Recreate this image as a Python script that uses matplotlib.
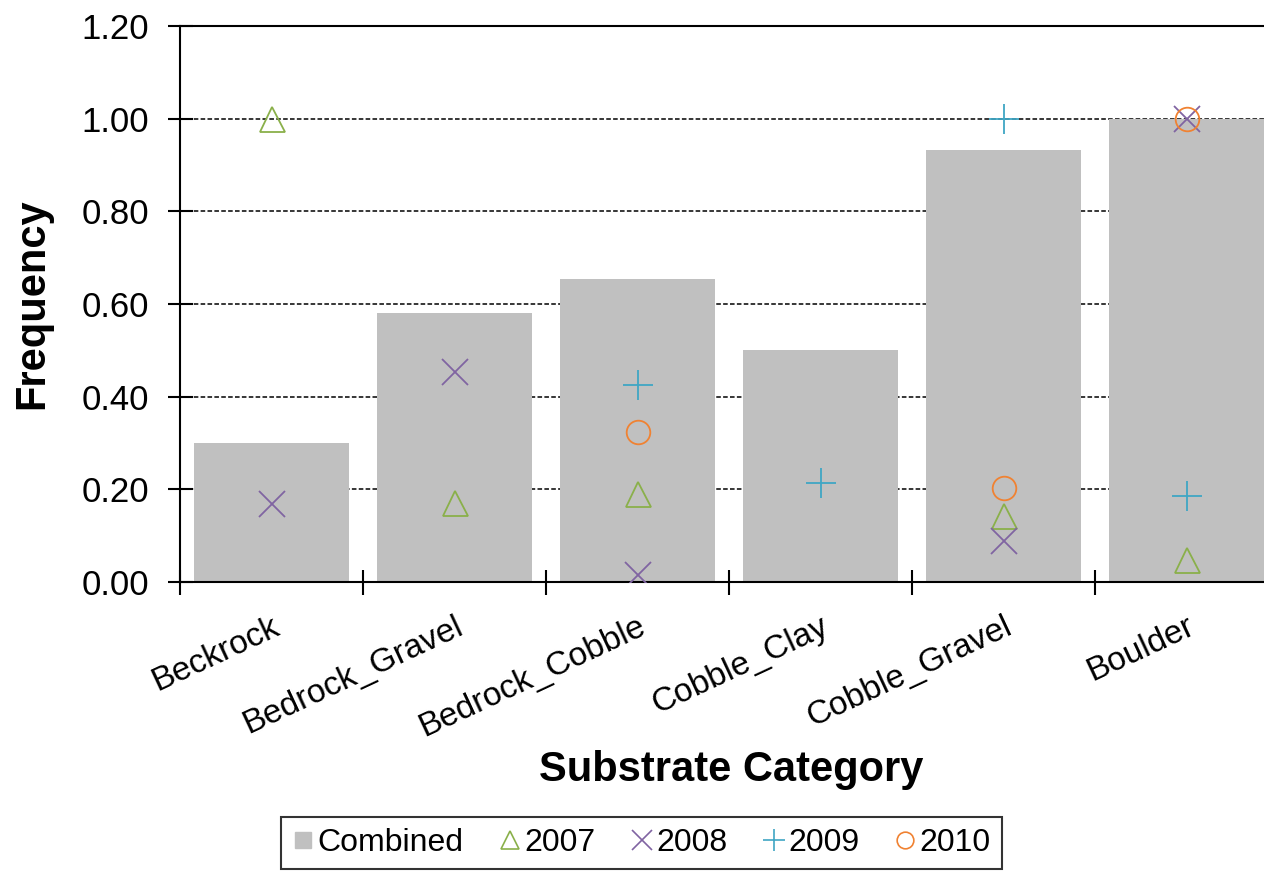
import matplotlib
matplotlib.use('Agg')
import matplotlib.pyplot as plt
from matplotlib.lines import Line2D
import numpy as np

plt.rcParams['font.family'] = ['Liberation Sans', 'DejaVu Sans']

categories = ['Beckrock', 'Bedrock_Gravel', 'Bedrock_Cobble', 'Cobble_Clay', 'Cobble_Gravel', 'Boulder']
combined = [0.30, 0.58, 0.654, 0.50, 0.933, 1.00]
y2007 = [1.00, 0.17, 0.19, np.nan, 0.143, 0.048]
y2008 = [0.168, 0.454, 0.015, np.nan, 0.089, 1.00]
y2009 = [np.nan, np.nan, 0.425, 0.214, 1.00, 0.186]
y2010 = [np.nan, np.nan, 0.324, np.nan, 0.203, 1.00]
yticks = [0.0, 0.2, 0.4, 0.6, 0.8, 1.0, 1.2]

green = '#8AB04A'
purple = '#8064A2'
teal = '#3FA6C4'
orange = '#F08232'
gray = '#C0C0C0'

fig = plt.figure(figsize=(12.64, 8.72), dpi=100)
ax = fig.add_axes([180 / 1264, 290 / 872, 1098 / 1264, 556 / 872])

x = np.arange(len(categories))
ax.bar(x, combined, width=0.85, color=gray, zorder=1)

mk = dict(linestyle='none', markerfacecolor='none', markeredgewidth=1.3, zorder=3)
ax.plot(x, y2007, marker='^', markersize=18, markeredgecolor=green, **mk)
ax.plot(x, y2008, marker='x', markersize=19, markeredgecolor=purple, **mk)
ax.plot(x, y2009, marker='+', markersize=21, markeredgecolor=teal, **mk)
ax.plot(x, y2010, marker='o', markersize=17, markeredgecolor=orange, **mk)

ax.set_xlim(-0.5, len(categories) - 0.5)
ax.set_ylim(0, 1.2)
ax.set_yticks(yticks)
ax.set_yticklabels([f'{v:.2f}' for v in yticks])
ax.set_axisbelow(True)
ax.yaxis.grid(True, color='black', linewidth=1.1, linestyle=(0, (3, 1.5)))

# category boundaries carry the ticks, centres carry the labels
ax.set_xticks(np.arange(-0.5, len(categories), 1.0))
ax.set_xticklabels([])
ax.set_xticks(x, minor=True)
ax.set_xticklabels(categories, minor=True, rotation=25, ha='right',
                   rotation_mode='anchor', fontsize=24)
ax.tick_params(axis='x', which='major', direction='inout', length=18, width=1.5)
ax.tick_params(axis='x', which='minor', length=0, pad=21)
ax.tick_params(axis='y', direction='inout', length=18, width=1.5, labelsize=25, pad=13)
for s in ax.spines.values():
    s.set_linewidth(1.5)

ax.set_ylabel('Frequency', fontsize=30, fontweight='bold')
ax.yaxis.set_label_coords(-0.116, 0.5)
ax.set_xlabel('Substrate Category', fontsize=30, fontweight='bold', va='center')
ax.xaxis.set_label_coords(0.502, -0.338)

handles = [
    Line2D([], [], linestyle='none', marker='s', markersize=11, color=gray),
    Line2D([], [], linestyle='none', marker='^', markersize=13, markerfacecolor='none',
           markeredgecolor=green, markeredgewidth=1.2),
    Line2D([], [], linestyle='none', marker='x', markersize=14, markeredgecolor=purple,
           markeredgewidth=1.2),
    Line2D([], [], linestyle='none', marker='+', markersize=16, markeredgecolor=teal,
           markeredgewidth=1.2),
    Line2D([], [], linestyle='none', marker='o', markersize=12, markerfacecolor='none',
           markeredgecolor=orange, markeredgewidth=1.2),
]
leg = fig.legend(handles, ['Combined', '2007', '2008', '2009', '2010'], ncol=5,
                 loc='upper center', bbox_to_anchor=(641.5 / 1264, 1 - 817 / 872),
                 fontsize=23, frameon=True, fancybox=False, edgecolor='black',
                 handlelength=0.7, handletextpad=0.1, columnspacing=1.1,
                 borderpad=0.35, borderaxespad=0)
leg.get_frame().set_linewidth(1.5)

fig.savefig('out.png', dpi=100)
